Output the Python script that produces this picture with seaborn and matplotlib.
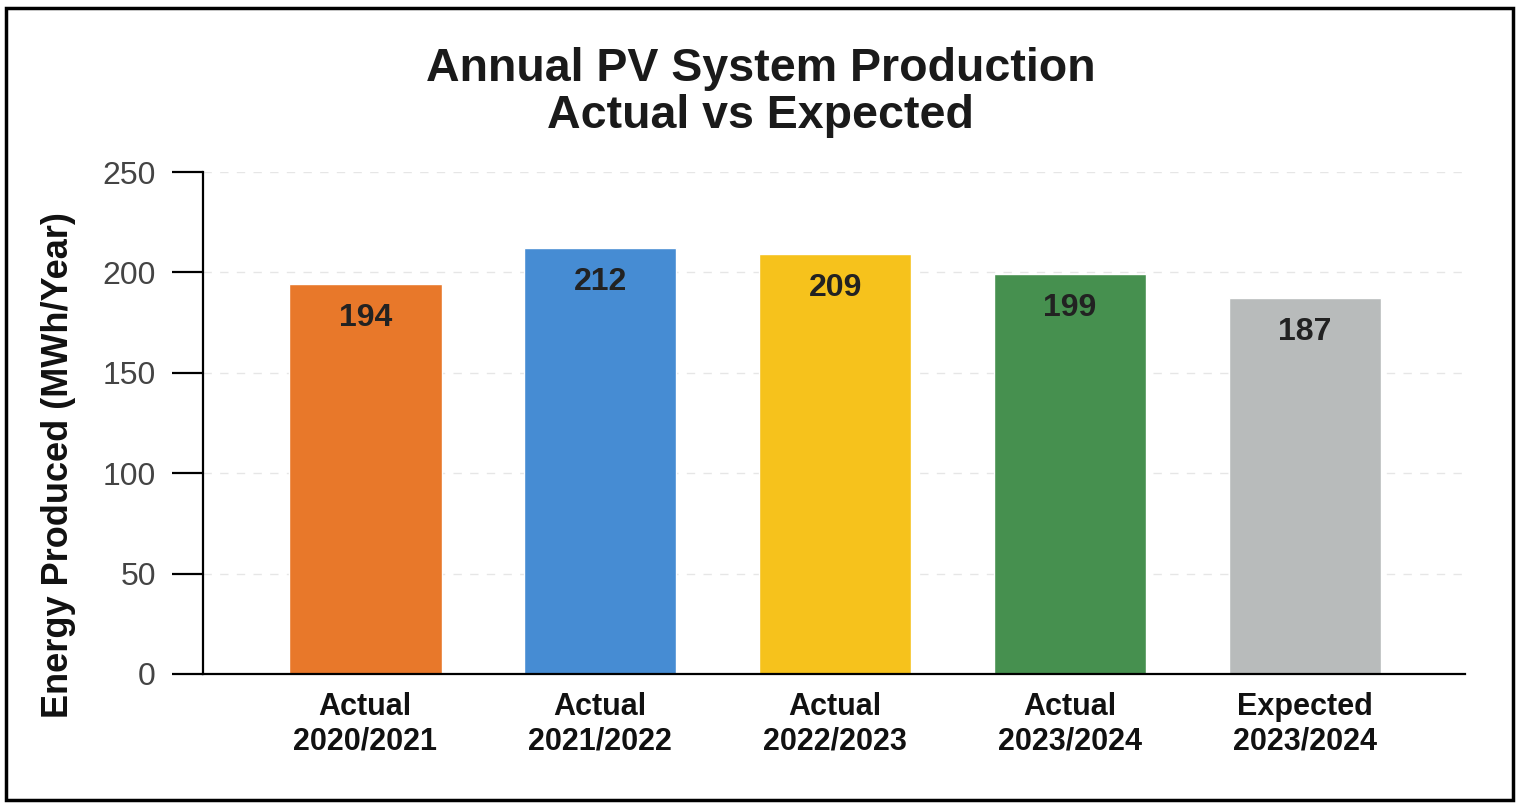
import seaborn as sns
import pandas as pd
import matplotlib.pyplot as plt
from matplotlib.patches import Rectangle

# annual production, actual vs expected
labels = ["Actual\n2020/2021", "Actual\n2021/2022", "Actual\n2022/2023",
          "Actual\n2023/2024", "Expected\n2023/2024"]
energy = [194, 212, 209, 199, 187]
colors = ["#E8782A", "#468CD3", "#F6C21C", "#46904F", "#B8BBBB"]

df = pd.DataFrame({"period": labels, "mwh": energy})

sns.set_style("white")
plt.rcParams["font.family"] = ["Liberation Sans", "DejaVu Sans"]

fig = plt.figure(figsize=(15.21, 8.06), dpi=100)
ax = fig.add_axes([0.1335, 0.1638, 0.8295, 0.6228])

sns.barplot(data=df, x="period", y="mwh", hue="period", palette=colors,
            legend=False, width=0.65, saturation=1, ax=ax)

for i, v in enumerate(energy):
    ax.annotate(str(v), (i, v), xytext=(0, -24), textcoords="offset points",
                ha="center", va="center", fontsize=23, fontweight="bold",
                color="#222222")

ax.set_ylim(0, 250)
ax.set_xlim(-0.69, 4.68)
ax.set_yticks([0, 50, 100, 150, 200, 250])
ax.yaxis.grid(True, color="#e6e6e6", linestyle=(0, (6, 6)), linewidth=1)
ax.set_axisbelow(True)

sns.despine(ax=ax)
for s in ["left", "bottom"]:
    ax.spines[s].set_color("black")
    ax.spines[s].set_linewidth(1.6)

ax.tick_params(axis="y", length=22, width=1.6, color="black", pad=12,
               labelsize=23, labelcolor="#444444", left=True)
ax.tick_params(axis="x", length=0, pad=13, labelsize=22)
for t in ax.get_xticklabels():
    t.set_fontweight("bold")
    t.set_color("#111111")
    t.set_linespacing(1.2)

ax.set_xlabel("")
ax.set_ylabel("Energy Produced (MWh/Year)", fontsize=26, fontweight="bold",
              color="#111111")
ax.yaxis.set_label_coords(-0.101, 0.416)

fig.text(0.5, 0.885, "Annual PV System Production\nActual vs Expected",
         ha="center", va="center", fontsize=33.5, fontweight="bold",
         color="#1a1a1a", linespacing=1.1)

fig.patches.append(Rectangle((0.004, 0.008), 0.991, 0.982, fill=False,
                             edgecolor="black", linewidth=2.5,
                             transform=fig.transFigure, figure=fig))

fig.savefig("out.png", dpi=100)
